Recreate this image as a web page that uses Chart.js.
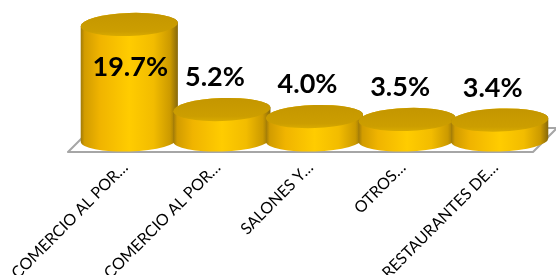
<!DOCTYPE html>
<html>
<head>
    <title>Cilindros 3D</title>
    <script src="https://cdn.jsdelivr.net/npm/chart.js"></script>
    <style>
        body { margin: 0; background: #fff; }
        #wrap { width: 556px; height: 275px; }
    </style>
</head>
<body>
    <div id="wrap"><canvas id="grafico"></canvas></div>

    <script>
        // Datos del grafico
        var categorias = ['COMERCIO AL POR…', 'COMERCIO AL POR…', 'SALONES Y…', 'OTROS…', 'RESTAURANTES DE…'];
        var valores = [19.7, 5.2, 4.0, 3.5, 3.4];
        var ejeY = { min: 0, max: 22 };

        // Piso y cilindros dibujados sobre las barras de Chart.js
        var cilindros = {
            id: 'cilindros',
            beforeDatasetsDraw: function (chart) {
                var ctx = chart.ctx, a = chart.chartArea;
                var base = chart.scales.y.getPixelForValue(0);
                var fy = base + 12, by = base - 12, d = 24;
                var fl = a.left - 15, fr = a.right - 13;
                ctx.save();
                ctx.beginPath();
                ctx.moveTo(fl, fy);
                ctx.lineTo(fr, fy);
                ctx.lineTo(fr + d, by);
                ctx.lineTo(fl + d, by);
                ctx.closePath();
                ctx.fillStyle = '#ffffff';
                ctx.fill();
                ctx.lineWidth = 2;
                ctx.lineJoin = 'round';
                ctx.strokeStyle = '#a6a6a6';
                ctx.stroke();
                ctx.restore();
            },
            afterDatasetsDraw: function (chart) {
                var ctx = chart.ctx;
                var meta = chart.getDatasetMeta(0);
                meta.data.forEach(function (bar, i) {
                    var rx = bar.width * 0.525, ry = 11.5, tilt = -0.035;
                    var cx = bar.x, top = bar.y, base = bar.base;
                    ctx.save();
                    var g = ctx.createLinearGradient(cx - rx, 0, cx + rx, 0);
                    g.addColorStop(0, '#a07a08');
                    g.addColorStop(0.04, '#d29c00');
                    g.addColorStop(0.2, '#f0b400');
                    g.addColorStop(0.5, '#ffcc00');
                    g.addColorStop(0.75, '#f2bc00');
                    g.addColorStop(0.92, '#cc9a00');
                    g.addColorStop(1, '#86680c');
                    ctx.beginPath();
                    ctx.ellipse(cx, base, rx, ry, tilt, 0, Math.PI);
                    ctx.ellipse(cx, top, rx, ry, tilt, Math.PI, Math.PI * 2);
                    ctx.closePath();
                    ctx.fillStyle = g;
                    ctx.fill();
                    // tapa superior
                    var t = ctx.createLinearGradient(0, top - ry, 0, top + ry);
                    t.addColorStop(0, '#c49600');
                    t.addColorStop(0.8, '#cc9e00');
                    t.addColorStop(1, '#d8aa00');
                    ctx.beginPath();
                    ctx.ellipse(cx, top, rx, ry, tilt, 0, Math.PI * 2);
                    ctx.fillStyle = t;
                    ctx.fill();
                    ctx.restore();
                });
                // etiquetas de valor
                ctx.save();
                ctx.font = 'bold 27px Lato';
                ctx.fillStyle = '#000';
                ctx.textAlign = 'center';
                ctx.textBaseline = 'alphabetic';
                meta.data.forEach(function (bar, i) {
                    var txt = valores[i].toFixed(1) + '%';
                    var y = bar.y - 11.5 - 12;
                    var x = bar.x - 7;
                    if (y - 22 < chart.chartArea.top) {
                        y = bar.y + 52;
                        x = bar.x + 1;
                    }
                    ctx.fillText(txt, x, y);
                });
                ctx.restore();
            }
        };

        var ctx = document.getElementById('grafico').getContext('2d');
        var chart = new Chart(ctx, {
            type: 'bar',
            data: {
                labels: categorias,
                datasets: [{
                    data: valores,
                    backgroundColor: 'rgba(0,0,0,0)',
                    barPercentage: 1,
                    categoryPercentage: 1
                }]
            },
            options: {
                responsive: true,
                maintainAspectRatio: false,
                animation: false,
                layout: { padding: { left: 83, right: 10, top: 11, bottom: 0 } },
                plugins: { legend: { display: false }, tooltip: { enabled: false } },
                scales: {
                    y: { display: false, min: ejeY.min, max: ejeY.max },
                    x: {
                        grid: { display: false },
                        border: { display: false },
                        ticks: {
                            minRotation: 45,
                            maxRotation: 45,
                            padding: 10,
                            labelOffset: -4,
                            color: '#000',
                            font: { family: 'Lato', size: 16 }
                        },
                        afterFit: function (scale) {
                            scale.height = 135;
                            scale.paddingLeft = 0;
                            scale.paddingRight = 0;
                        }
                    }
                }
            },
            plugins: [cilindros]
        });
    </script>
</body>
</html>
